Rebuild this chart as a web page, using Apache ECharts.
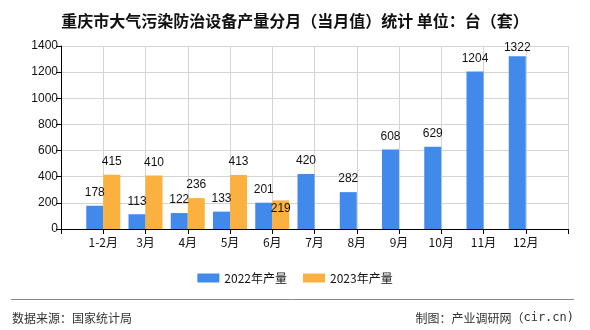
<!DOCTYPE html>
<html>
<head>
<meta charset="utf-8">
<script src="https://cdn.jsdelivr.net/npm/echarts@6/dist/echarts.min.js"></script>
<style>
html,body{margin:0;padding:0;background:#fff;}
#c{width:590px;height:330px;}
</style>
</head>
<body>
<div id="c"></div>
<script>
var categories = ['', '1-2月', '3月', '4月', '5月', '6月', '7月', '8月', '9月', '10月', '11月', '12月', ''];
var values2022 = [null, 178, 113, 122, 133, 201, 420, 282, 608, 629, 1204, 1322, null];
var values2023 = [null, 415, 410, 236, 413, 219, null, null, null, null, null, null, null];
var seriesNames = ['2022年产量', '2023年产量'];
var yTicks = [0, 200, 400, 600, 800, 1000, 1200, 1400];

var FONT = '"Liberation Sans", "Noto Sans CJK SC", sans-serif';
var CJK = '"Noto Sans CJK SC", sans-serif';

function withLabelOverride(arr, idx, label) {
  return arr.map(function (v, i) {
    if (i === idx) return { value: v, label: label };
    return v;
  });
}

var chart = echarts.init(document.getElementById('c'), null, { renderer: 'canvas' });
chart.setOption({
  animation: false,
  backgroundColor: '#fff',
  title: {
    text: '重庆市大气污染防治设备产量分月（当月值）统计 单位：台（套）',
    left: 'center',
    top: 8,
    textStyle: { fontFamily: CJK, fontSize: 16, fontWeight: 'bold', color: '#111' }
  },
  legend: {
    data: seriesNames,
    top: 267,
    left: 'center',
    itemWidth: 22,
    itemHeight: 9,
    itemGap: 16,
    icon: 'rect',
    textStyle: { fontFamily: CJK, fontSize: 12, color: '#111' }
  },
  grid: { left: 61, right: 22, top: 46, bottom: 101 },
  xAxis: {
    type: 'category',
    data: categories,
    boundaryGap: false,
    axisLine: { lineStyle: { color: '#000', width: 1 } },
    axisTick: { show: true, length: 5, lineStyle: { color: '#000' } },
    axisLabel: { fontFamily: CJK, fontSize: 12, color: '#111', margin: 7, interval: 0 },
    splitLine: { show: true, lineStyle: { color: '#d4d4d4', width: 1 } }
  },
  yAxis: {
    type: 'value',
    min: yTicks[0],
    max: yTicks[yTicks.length - 1],
    interval: 200,
    axisLine: { show: true, lineStyle: { color: '#000', width: 1 } },
    axisTick: { show: true, length: 5, lineStyle: { color: '#000' } },
    axisLabel: { fontFamily: FONT, fontSize: 12, color: '#111', margin: 3, formatter: function (v) { return String(v); } },
    splitLine: { show: true, lineStyle: { color: '#d4d4d4', width: 1 } }
  },
  series: [
    {
      name: seriesNames[0],
      type: 'bar',
      barWidth: 17,
      barGap: '0%',
      itemStyle: { color: '#418aec' },
      label: { show: true, position: 'top', distance: 7, fontFamily: FONT, fontSize: 12, color: '#111' },
      data: withLabelOverride(values2022, 11, { distance: 3 })
    },
    {
      name: seriesNames[1],
      type: 'bar',
      barWidth: 17,
      barGap: '0%',
      itemStyle: { color: '#fbb13f' },
      label: { show: true, position: 'top', distance: 7, fontFamily: FONT, fontSize: 12, color: '#111' },
      data: withLabelOverride(values2023, 5, { position: 'insideTop', distance: 2 })
    }
  ],
  graphic: [
    {
      type: 'line',
      shape: { x1: 11, y1: 299.5, x2: 574, y2: 299.5 },
      style: { stroke: '#888', lineWidth: 1 }
    },
    {
      type: 'text',
      left: 12,
      top: 312,
      style: { text: '数据来源：国家统计局', font: '12px ' + CJK, fill: '#333' }
    },
    {
      type: 'text',
      right: 16,
      top: 312,
      style: {
        text: '{a|制图：产业调研网（}{b|cir.cn)}',
        rich: {
          a: { fontFamily: CJK, fontSize: 12, fill: '#333', color: '#333' },
          b: { fontFamily: '"DejaVu Sans Mono", monospace', fontSize: 12, fill: '#333', color: '#333' }
        }
      }
    }
  ]
});
</script>
</body>
</html>
